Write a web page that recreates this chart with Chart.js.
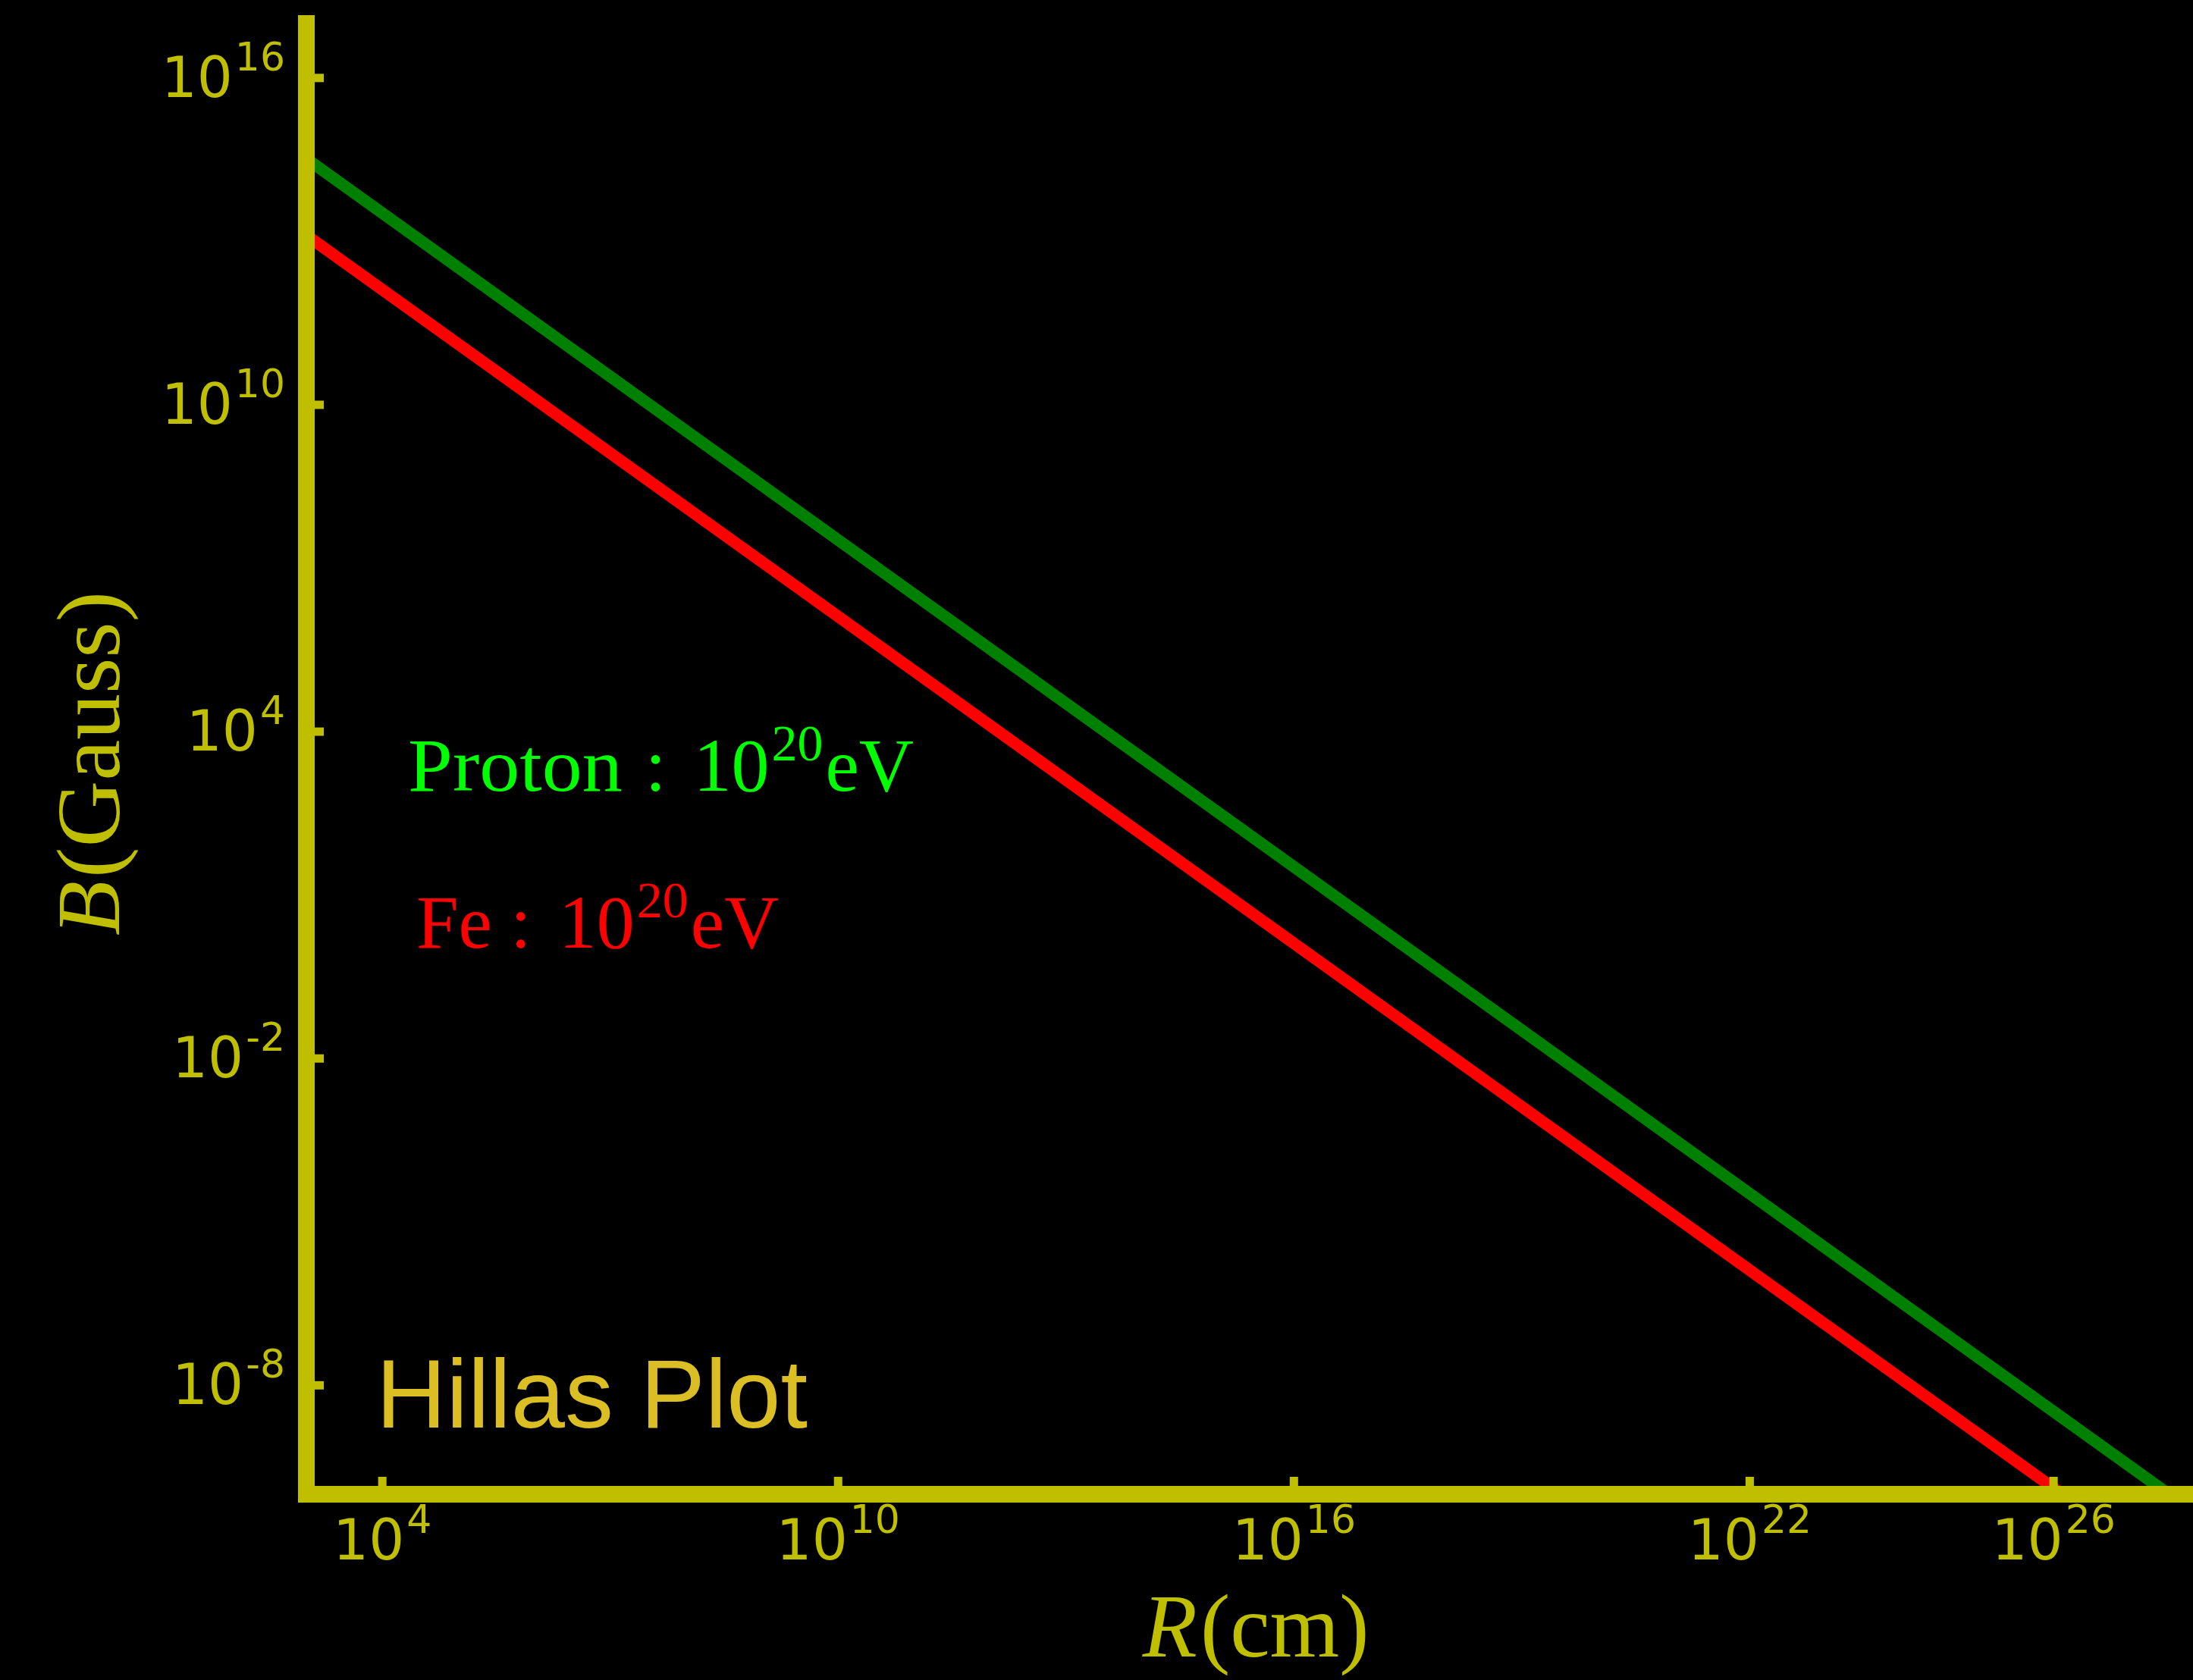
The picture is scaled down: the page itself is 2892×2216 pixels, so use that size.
<!DOCTYPE html>
<html>
<head>
<meta charset="utf-8">
<title>Hillas Plot</title>
<script src="https://cdn.jsdelivr.net/npm/chart.js@4.4.1/dist/chart.umd.min.js"></script>
<style>
  html, body { margin: 0; padding: 0; background: #000; overflow: hidden; }
  canvas { display: block; }
</style>
</head>
<body>
<canvas id="hillasChart" width="2920" height="2216"></canvas>
<script>
// radius in cm and field in gauss at both ends of each line
const protonRadius = [1e3, 3.3e27];
const protonField = [3.3e14, 1e-10];
const ironRadius = [1e3, 1.3e26];
const ironField = [1.3e13, 1e-10];

// decades that get a tick and a label
const radiusTickPowers = [4, 10, 16, 22, 26];
const fieldTickPowers = [16, 10, 4, -2, -8];

const axisColor = "#bfbf00";
const spineWidth = 22;
const tickWidth = 11;
const tickFont = "74px 'DejaVu Sans'";
const supFont = "52px 'DejaVu Sans'";
const serif = "'Liberation Serif', 'DejaVu Serif', serif";

function points(xs, ys) {
  return xs.map((x, i) => ({ x: x, y: ys[i] }));
}

// "10" with a raised exponent, like the mathtext tick labels
function drawPower(ctx, exp, x, y, align) {
  ctx.font = tickFont;
  const wb = ctx.measureText("10").width;
  ctx.font = supFont;
  const we = ctx.measureText(String(exp)).width;
  const gap = 3;
  const total = wb + gap + we;
  let start = x;
  if (align === "center") start = x - total / 2;
  if (align === "right") start = x - total;
  ctx.textAlign = "left";
  ctx.textBaseline = "alphabetic";
  ctx.font = tickFont;
  ctx.fillText("10", start, y);
  ctx.font = supFont;
  ctx.fillText(String(exp), start + wb + gap, y - 35);
}

// text pieces drawn one after another: {t, font, gap, dy, sx}
function drawRuns(ctx, runs, x, y) {
  ctx.textAlign = "left";
  ctx.textBaseline = "alphabetic";
  let cx = x;
  runs.forEach((r) => {
    const sx = r.sx || 1;
    cx += r.gap || 0;
    ctx.font = r.font;
    ctx.save();
    ctx.translate(cx, y + (r.dy || 0));
    ctx.scale(sx, 1);
    ctx.fillText(r.t, 0, 0);
    ctx.restore();
    cx += ctx.measureText(r.t).width * sx;
  });
  return cx - x;
}

function measureRuns(ctx, runs) {
  let w = 0;
  runs.forEach((r) => {
    ctx.font = r.font;
    w += (r.gap || 0) + ctx.measureText(r.t).width * (r.sx || 1);
  });
  return w;
}

const axesPlugin = {
  id: "hillasAxes",
  afterDatasetsDraw(chart) {
    const ctx = chart.ctx;
    const area = chart.chartArea;
    const xs = chart.scales.x;
    const ys = chart.scales.y;
    const half = spineWidth / 2;
    ctx.save();
    ctx.fillStyle = axisColor;

    // left and bottom spines, square ends
    ctx.fillRect(area.left - half, area.top - half, spineWidth, area.bottom - area.top + spineWidth);
    ctx.fillRect(area.left - half, area.bottom - half, chart.width - area.left + half, spineWidth);

    // inward ticks
    fieldTickPowers.forEach((p) => {
      const py = ys.getPixelForValue(Math.pow(10, p));
      ctx.fillRect(area.left, py - tickWidth / 2, half + 12, tickWidth);
    });
    radiusTickPowers.forEach((p) => {
      const px = xs.getPixelForValue(Math.pow(10, p));
      ctx.fillRect(px - tickWidth / 2, area.bottom - half - 12, tickWidth, half + 12);
    });

    // tick labels
    fieldTickPowers.forEach((p) => {
      const py = ys.getPixelForValue(Math.pow(10, p));
      drawPower(ctx, p, area.left - half - 17, py + 25, "right");
    });
    radiusTickPowers.forEach((p) => {
      const px = xs.getPixelForValue(Math.pow(10, p));
      drawPower(ctx, p, px, area.bottom + 86, "center");
    });

    // axis titles
    const yTitle = [
      { t: "B", font: "italic 118px " + serif },
      { t: "(Gauss)", font: "118px " + serif, gap: 4, sx: 1.03 },
    ];
    const xTitle = [
      { t: "R", font: "italic 118px " + serif },
      { t: "(cm)", font: "118px " + serif, gap: 4 },
    ];
    const midX = (area.left + area.right) / 2;
    const midY = (area.top + area.bottom) / 2;
    drawRuns(ctx, xTitle, midX - measureRuns(ctx, xTitle) / 2, 2185);
    ctx.save();
    ctx.translate(157, midY + 6);
    ctx.rotate(-Math.PI / 2);
    drawRuns(ctx, yTitle, -measureRuns(ctx, yTitle) / 2, 0);
    ctx.restore();

    // annotations
    const big = "100px " + serif;
    const sup = "68px " + serif;
    ctx.fillStyle = "#00ff00";
    drawRuns(ctx, [
      { t: "Proton", font: big, sx: 1.06 },
      { t: ":", font: big, gap: 30 },
      { t: "10", font: big, gap: 36 },
      { t: "20", font: sup, gap: 3, dy: -40 },
      { t: "eV", font: big, gap: 3 },
    ], 538, 1043);
    ctx.fillStyle = "#ff0000";
    drawRuns(ctx, [
      { t: "Fe", font: big },
      { t: ":", font: big, gap: 24 },
      { t: "10", font: big, gap: 36 },
      { t: "20", font: sup, gap: 3, dy: -40 },
      { t: "eV", font: big, gap: 3 },
    ], 549, 1250);

    ctx.fillStyle = "#dabe24";
    ctx.font = "128px 'Liberation Sans', Arial, sans-serif";
    ctx.textAlign = "left";
    ctx.fillText("Hillas Plot", 496, 1883);
    ctx.restore();
  },
};

new Chart(document.getElementById("hillasChart"), {
  type: "scatter",
  data: {
    datasets: [
      {
        label: "Proton",
        data: points(protonRadius, protonField),
        showLine: true,
        borderColor: "#008000",
        borderWidth: 15.5,
        pointRadius: 0,
      },
      {
        label: "Fe",
        data: points(ironRadius, ironField),
        showLine: true,
        borderColor: "#ff0000",
        borderWidth: 15.5,
        pointRadius: 0,
      },
    ],
  },
  options: {
    responsive: false,
    animation: false,
    devicePixelRatio: 1,
    layout: { padding: { left: 404, top: 31, right: 11.5, bottom: 245 } },
    plugins: {
      legend: { display: false },
      tooltip: { enabled: false },
    },
    scales: {
      x: { type: "logarithmic", min: 1e3, max: 1e28, display: false },
      y: { type: "logarithmic", min: 1e-10, max: 1e17, display: false },
    },
  },
  plugins: [axesPlugin],
});
</script>
</body>
</html>
